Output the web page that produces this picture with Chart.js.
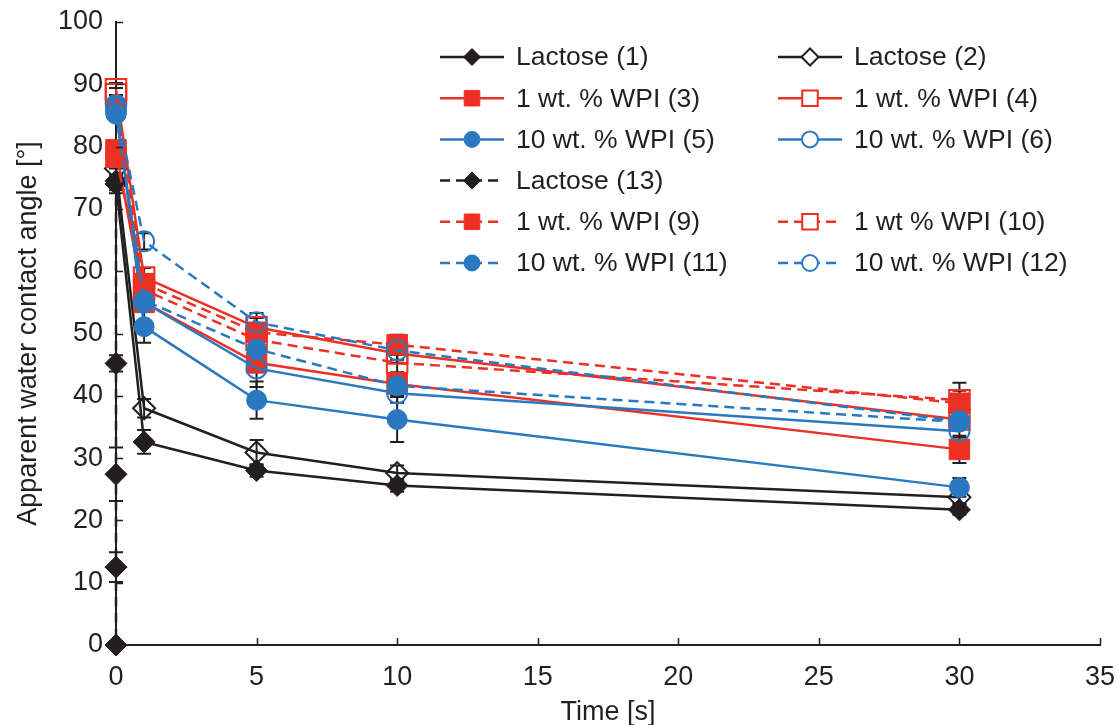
<!DOCTYPE html>
<html>
<head>
<meta charset="utf-8">
<script src="https://cdn.jsdelivr.net/npm/chart.js@4.4.1/dist/chart.umd.min.js"></script>
<style>
  html, body { margin: 0; padding: 0; background: #ffffff; }
  #wrap { width: 1118px; height: 725px; }
</style>
</head>
<body>
<div id="wrap"><canvas id="chart" width="1118" height="725"></canvas></div>
<script>
// Measurement times [s]
const times = [0, 1, 5, 10, 30];
const lactose13Times = [0, 0, 0, 0, 0];

// Apparent water contact angle [°]
const lactose1 = [74.0, 32.6, 28.0, 25.6, 21.7];
const lactose2 = [76.5, 38.0, 30.9, 27.6, 23.7];
const lactose13 = [74.5, 45.2, 27.4, 12.5, 0.0];
const wpi1_3 = [79.5, 55.0, 45.3, 41.9, 31.4];
const wpi1_4 = [89.2, 59.0, 51.0, 46.8, 36.2];
const wpi10_5 = [86.8, 51.1, 39.3, 36.2, 25.3];
const wpi10_6 = [85.5, 55.0, 44.4, 40.4, 34.3];
const wpi1_9 = [78.3, 58.0, 50.2, 48.2, 38.8];
const wpi1_10 = [88.4, 57.0, 49.0, 45.3, 39.3];
const wpi10_11 = [85.2, 55.3, 47.5, 41.6, 35.8];
const wpi10_12 = [86.4, 64.8, 51.8, 47.3, 35.9];

// Standard deviations (symmetric error bars)
const lactose1Err = [1.0, 1.9, 1.0, 1.0, 0.8];
const lactose2Err = [1.0, 1.5, 2.0, 1.2, 1.0];
const lactose13Err = [2.0, 1.3, 4.3, 2.4, 0.0];
const wpi1_3Err = [1.0, 1.5, 1.5, 1.5, 2.2];
const wpi1_4Err = [1.0, 1.5, 1.5, 1.5, 1.5];
const wpi10_5Err = [1.5, 2.6, 3.0, 3.6, 1.5];
const wpi10_6Err = [1.0, 1.5, 3.0, 1.5, 1.0];
const wpi1_9Err = [1.0, 1.5, 1.5, 1.6, 3.3];
const wpi1_10Err = [1.0, 1.5, 1.5, 1.5, 1.5];
const wpi10_11Err = [1.0, 1.0, 1.5, 1.5, 1.0];
const wpi10_12Err = [1.0, 1.3, 1.5, 1.5, 1.0];

// Axis ticks
const xTicks = [0, 5, 10, 15, 20, 25, 30, 35];
const yTicks = [0, 10, 20, 30, 40, 50, 60, 70, 80, 90, 100];

const BLACK = '#231f20';
const RED = '#ec3124';
const BLUE = '#2a79c0';
const FONT = '"Liberation Sans", Arial, sans-serif';
const AXIS_FONT = 27;
const LEGEND_FONT = 26.5;

// Series: colour, marker, fill, line style and legend slot [column, row]
const series = [
  { label: 'Lactose (1)',        t: times,          v: lactose1,  e: lactose1Err,  color: BLACK, marker: 'rectRot', filled: true,  dashed: false, slot: [0, 0] },
  { label: 'Lactose (2)',        t: times,          v: lactose2,  e: lactose2Err,  color: BLACK, marker: 'rectRot', filled: false, dashed: false, slot: [1, 0] },
  { label: '1 wt. % WPI (3)',    t: times,          v: wpi1_3,    e: wpi1_3Err,    color: RED,   marker: 'rect',    filled: true,  dashed: false, slot: [0, 1] },
  { label: '1 wt. % WPI (4)',    t: times,          v: wpi1_4,    e: wpi1_4Err,    color: RED,   marker: 'rect',    filled: false, dashed: false, slot: [1, 1] },
  { label: '10 wt. % WPI (5)',   t: times,          v: wpi10_5,   e: wpi10_5Err,   color: BLUE,  marker: 'circle',  filled: true,  dashed: false, slot: [0, 2] },
  { label: '10 wt. % WPI (6)',   t: times,          v: wpi10_6,   e: wpi10_6Err,   color: BLUE,  marker: 'circle',  filled: false, dashed: false, slot: [1, 2] },
  { label: 'Lactose (13)',       t: lactose13Times, v: lactose13, e: lactose13Err, color: BLACK, marker: 'rectRot', filled: true,  dashed: true,  slot: [0, 3] },
  { label: '1 wt. % WPI (9)',    t: times,          v: wpi1_9,    e: wpi1_9Err,    color: RED,   marker: 'rect',    filled: true,  dashed: true,  slot: [0, 4] },
  { label: '1 wt % WPI (10)',    t: times,          v: wpi1_10,   e: wpi1_10Err,   color: RED,   marker: 'rect',    filled: false, dashed: true,  slot: [1, 4] },
  { label: '10 wt. % WPI (11)',  t: times,          v: wpi10_11,  e: wpi10_11Err,  color: BLUE,  marker: 'circle',  filled: true,  dashed: true,  slot: [0, 5] },
  { label: '10 wt. % WPI (12)',  t: times,          v: wpi10_12,  e: wpi10_12Err,  color: BLUE,  marker: 'circle',  filled: false, dashed: true,  slot: [1, 5] }
];

const markerRadius = { rectRot: 11, rect: 14.5, circle: 10 };
const legendRadius = { rectRot: 8.5, rect: 11, circle: 8 };
const DASH = [10, 6];

const datasets = series.map((s, i) => ({
  label: s.label,
  data: s.t.map((t, k) => ({ x: t, y: s.v[k] })),
  errors: s.e,
  borderColor: s.color,
  borderWidth: 2.5,
  borderDash: s.dashed ? DASH : [],
  pointStyle: s.marker,
  pointRadius: markerRadius[s.marker],
  pointHoverRadius: markerRadius[s.marker],
  pointBorderWidth: s.filled ? 1 : 2,
  pointBorderColor: s.color,
  pointBackgroundColor: s.filled ? s.color : 'rgba(0,0,0,0)',
  backgroundColor: s.color,
  tension: 0,
  fill: false,
  clip: false,
  order: -i
}));

// Black symmetric error bars, drawn beneath the markers
const errorBars = {
  id: 'errorBars',
  beforeDatasetsDraw(chart) {
    const { ctx, scales: { x, y } } = chart;
    ctx.save();
    ctx.strokeStyle = BLACK;
    ctx.lineWidth = 2;
    ctx.setLineDash([]);
    chart.data.datasets.forEach(ds => {
      ds.data.forEach((p, k) => {
        const e = ds.errors[k];
        if (!e) return;
        const px = x.getPixelForValue(p.x);
        const top = y.getPixelForValue(p.y + e);
        const bot = y.getPixelForValue(p.y - e);
        ctx.beginPath();
        ctx.moveTo(px, top); ctx.lineTo(px, bot);
        ctx.moveTo(px - 7, top); ctx.lineTo(px + 7, top);
        ctx.moveTo(px - 7, bot); ctx.lineTo(px + 7, bot);
        ctx.stroke();
      });
    });
    ctx.restore();
  }
};

// Short inward tick marks on both axes
const innerTicks = {
  id: 'innerTicks',
  afterDraw(chart) {
    const { ctx, scales: { x, y }, chartArea: a } = chart;
    ctx.save();
    ctx.strokeStyle = BLACK;
    ctx.lineWidth = 1.5;
    ctx.beginPath();
    yTicks.forEach(v => {
      const py = Math.round(y.getPixelForValue(v)) + 0.5;
      ctx.moveTo(a.left, py); ctx.lineTo(a.left + 7, py);
    });
    xTicks.forEach(v => {
      const px = Math.round(x.getPixelForValue(v)) + 0.5;
      ctx.moveTo(px, a.bottom); ctx.lineTo(px, a.bottom - 7);
    });
    ctx.stroke();
    ctx.restore();
  }
};

function drawMarkerPath(ctx, style, r, cx, cy) {
  if (style === 'circle') {
    ctx.arc(cx, cy, r, 0, Math.PI * 2);
  } else if (style === 'rect') {
    const h = r * Math.SQRT1_2;
    ctx.rect(cx - h, cy - h, 2 * h, 2 * h);
  } else {
    ctx.moveTo(cx, cy - r); ctx.lineTo(cx + r, cy);
    ctx.lineTo(cx, cy + r); ctx.lineTo(cx - r, cy);
    ctx.closePath();
  }
}

// Two-column legend with line + marker samples
const legendBox = {
  id: 'legendBox',
  afterDraw(chart) {
    const { ctx } = chart;
    const colX = [440, 778];
    const lineLen = 64;
    const textGap = 12;
    const rowY0 = 57, rowStep = 41.2;
    ctx.save();
    ctx.font = LEGEND_FONT + 'px ' + FONT;
    ctx.textBaseline = 'middle';
    ctx.textAlign = 'left';
    series.forEach(s => {
      const x0 = colX[s.slot[0]];
      const yy = rowY0 + s.slot[1] * rowStep;
      const cx = x0 + lineLen / 2;
      ctx.strokeStyle = s.color;
      ctx.lineWidth = 2.5;
      ctx.setLineDash(s.dashed ? DASH : []);
      ctx.beginPath();
      ctx.moveTo(x0, yy); ctx.lineTo(x0 + lineLen, yy);
      ctx.stroke();
      ctx.setLineDash([]);
      ctx.fillStyle = s.filled ? s.color : '#ffffff';
      ctx.lineWidth = s.filled ? 1 : 2;
      ctx.beginPath();
      drawMarkerPath(ctx, s.marker, legendRadius[s.marker], cx, yy);
      ctx.fill();
      ctx.stroke();
      ctx.fillStyle = BLACK;
      ctx.fillText(s.label, x0 + lineLen + textGap, yy + 1);
    });
    ctx.restore();
  }
};

new Chart(document.getElementById('chart'), {
  type: 'line',
  data: { datasets },
  plugins: [errorBars, innerTicks, legendBox],
  options: {
    responsive: false,
    animation: false,
    events: [],
    layout: { padding: { left: 0, top: 22, right: 18, bottom: 0 } },
    plugins: { legend: { display: false }, tooltip: { enabled: false } },
    scales: {
      x: {
        type: 'linear',
        min: 0, max: 35,
        afterFit(s) { s.height = 80; s.paddingLeft = 0; s.paddingRight = 0; },
        afterBuildTicks(s) { s.ticks = xTicks.map(v => ({ value: v })); },
        grid: { display: false, drawTicks: false },
        border: { display: true, color: BLACK, width: 2 },
        ticks: { color: BLACK, font: { family: FONT, size: AXIS_FONT }, padding: 16, maxRotation: 0 },
        title: { display: true, text: 'Time [s]', color: BLACK, font: { family: FONT, size: AXIS_FONT }, padding: { top: 0, bottom: -4 } }
      },
      y: {
        type: 'linear',
        min: 0, max: 100,
        afterFit(s) { s.width = 116; s.paddingTop = 0; s.paddingBottom = 0; },
        afterBuildTicks(s) { s.ticks = yTicks.map(v => ({ value: v })); },
        grid: { display: false, drawTicks: false },
        border: { display: true, color: BLACK, width: 2 },
        ticks: { color: BLACK, font: { family: FONT, size: AXIS_FONT }, padding: 13 },
        title: { display: true, text: 'Apparent water contact angle [°]', color: BLACK, font: { family: FONT, size: AXIS_FONT }, padding: { top: 12, bottom: 0 } }
      }
    }
  }
});
</script>
</body>
</html>
